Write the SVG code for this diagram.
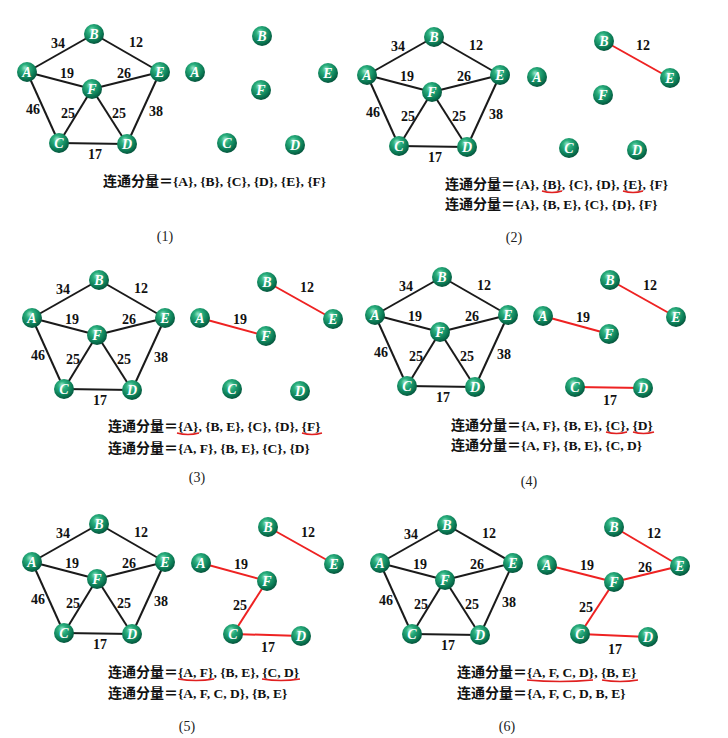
<svg xmlns="http://www.w3.org/2000/svg" xmlns:xlink="http://www.w3.org/1999/xlink" width="728" height="738" viewBox="0 0 728 738">
<defs>
<radialGradient id="ball" cx="0.42" cy="0.36" r="0.66" fx="0.4" fy="0.3">
<stop offset="0" stop-color="#9be6c6"/>
<stop offset="0.3" stop-color="#2bb07f"/>
<stop offset="0.75" stop-color="#0b7a54"/>
<stop offset="1" stop-color="#05503a"/>
</radialGradient>
</defs>
<style>
.n{fill:url(#ball)}
.nl{fill:#fff;font-family:"Liberation Serif",serif;font-style:italic;font-weight:bold;font-size:14px;text-anchor:middle}
.e{stroke:#1a1a1a;stroke-width:2;fill:none}
.r{stroke:#ee2222;stroke-width:2;fill:none}
.w{fill:#111;font-family:"Liberation Serif",serif;font-weight:bold;font-size:14px;text-anchor:middle}
.t{fill:#111;font-family:"Liberation Serif","Noto Sans CJK SC",sans-serif;font-weight:bold;font-size:13.5px}
.cj{font-family:"Noto Sans CJK SC",sans-serif;font-size:14px}
.u{stroke:#e02020;stroke-width:1.5;fill:none}
.cap{fill:#222;font-family:"Liberation Serif",serif;font-size:14px;text-anchor:middle}
</style>
<rect width="728" height="738" fill="#fff"/>

<!-- ===== Panel 1 ===== -->
<g id="panel1">
<g id="p1-main" transform="translate(27,72)">
<g id="p1-main-edges">
<line class="e" x1="0" y1="0" x2="67" y2="-38"/><line class="e" x1="67" y1="-38" x2="133" y2="0"/><line class="e" x1="0" y1="0" x2="65" y2="17"/><line class="e" x1="65" y1="17" x2="133" y2="0"/><line class="e" x1="0" y1="0" x2="32" y2="71"/><line class="e" x1="65" y1="17" x2="32" y2="71"/><line class="e" x1="65" y1="17" x2="100" y2="72"/><line class="e" x1="133" y1="0" x2="100" y2="72"/><line class="e" x1="32" y1="71" x2="100" y2="72"/>
<text class="w" x="31" y="-24">34</text><text class="w" x="109" y="-25">12</text><text class="w" x="40" y="6">19</text><text class="w" x="97" y="6">26</text><text class="w" x="6" y="42">46</text><text class="w" x="41" y="46">25</text><text class="w" x="92" y="46">25</text><text class="w" x="129" y="44">38</text><text class="w" x="68" y="87">17</text>
</g>
<g id="p1-A"><circle class="n" cx="0" cy="0" r="10"/><text class="nl" x="0" y="5">A</text></g>
<g id="p1-B"><circle class="n" cx="67" cy="-38" r="10"/><text class="nl" x="67" y="-33">B</text></g>
<g id="p1-E"><circle class="n" cx="133" cy="0" r="10"/><text class="nl" x="133" y="5">E</text></g>
<g id="p1-F"><circle class="n" cx="65" cy="17" r="10"/><text class="nl" x="65" y="22">F</text></g>
<g id="p1-C"><circle class="n" cx="32" cy="71" r="10"/><text class="nl" x="32" y="76">C</text></g>
<g id="p1-D"><circle class="n" cx="100" cy="72" r="10"/><text class="nl" x="100" y="77">D</text></g>
</g>
<g id="p1-sub" transform="translate(195,72)">
<g id="p1-A2"><circle class="n" cx="0" cy="0" r="10"/><text class="nl" x="0" y="5">A</text></g>
<g id="p1-B2"><circle class="n" cx="67" cy="-36" r="10"/><text class="nl" x="67" y="-31">B</text></g>
<g id="p1-E2"><circle class="n" cx="133" cy="1" r="10"/><text class="nl" x="133" y="6">E</text></g>
<g id="p1-F2"><circle class="n" cx="66" cy="18" r="10"/><text class="nl" x="66" y="23">F</text></g>
<g id="p1-C2"><circle class="n" cx="32" cy="71" r="10"/><text class="nl" x="32" y="76">C</text></g>
<g id="p1-D2"><circle class="n" cx="100" cy="73" r="10"/><text class="nl" x="100" y="78">D</text></g>
</g>
<text class="t" x="103" y="186"><tspan class="cj">连通分量＝</tspan>{A}, {B}, {C}, {D}, {E}, {F}</text>
<text class="cap" x="165" y="241">(1)</text>
</g>

<!-- ===== Panel 2 ===== -->
<g id="panel2">
<g id="p2-main" transform="translate(367,75)">
<g id="p2-main-edges">
<line class="e" x1="0" y1="0" x2="67" y2="-38"/><line class="e" x1="67" y1="-38" x2="133" y2="0"/><line class="e" x1="0" y1="0" x2="65" y2="17"/><line class="e" x1="65" y1="17" x2="133" y2="0"/><line class="e" x1="0" y1="0" x2="32" y2="71"/><line class="e" x1="65" y1="17" x2="32" y2="71"/><line class="e" x1="65" y1="17" x2="100" y2="72"/><line class="e" x1="133" y1="0" x2="100" y2="72"/><line class="e" x1="32" y1="71" x2="100" y2="72"/>
<text class="w" x="31" y="-24">34</text><text class="w" x="109" y="-25">12</text><text class="w" x="40" y="6">19</text><text class="w" x="97" y="6">26</text><text class="w" x="6" y="42">46</text><text class="w" x="41" y="46">25</text><text class="w" x="92" y="46">25</text><text class="w" x="129" y="44">38</text><text class="w" x="68" y="87">17</text>
</g>
<g id="p2-A"><circle class="n" cx="0" cy="0" r="10"/><text class="nl" x="0" y="5">A</text></g>
<g id="p2-B"><circle class="n" cx="67" cy="-38" r="10"/><text class="nl" x="67" y="-33">B</text></g>
<g id="p2-E"><circle class="n" cx="133" cy="0" r="10"/><text class="nl" x="133" y="5">E</text></g>
<g id="p2-F"><circle class="n" cx="65" cy="17" r="10"/><text class="nl" x="65" y="22">F</text></g>
<g id="p2-C"><circle class="n" cx="32" cy="71" r="10"/><text class="nl" x="32" y="76">C</text></g>
<g id="p2-D"><circle class="n" cx="100" cy="72" r="10"/><text class="nl" x="100" y="77">D</text></g>
</g>
<g id="p2-sub" transform="translate(537,77)">
<g id="p2-sub-edges">
<line class="r" x1="67" y1="-36" x2="133" y2="1"/>
<text class="w" x="106" y="-27">12</text>
</g>
<g id="p2-A2"><circle class="n" cx="0" cy="0" r="10"/><text class="nl" x="0" y="5">A</text></g>
<g id="p2-B2"><circle class="n" cx="67" cy="-36" r="10"/><text class="nl" x="67" y="-31">B</text></g>
<g id="p2-E2"><circle class="n" cx="133" cy="1" r="10"/><text class="nl" x="133" y="6">E</text></g>
<g id="p2-F2"><circle class="n" cx="66" cy="18" r="10"/><text class="nl" x="66" y="23">F</text></g>
<g id="p2-C2"><circle class="n" cx="32" cy="71" r="10"/><text class="nl" x="32" y="76">C</text></g>
<g id="p2-D2"><circle class="n" cx="100" cy="73" r="10"/><text class="nl" x="100" y="78">D</text></g>
</g>
<text class="t" x="445" y="189"><tspan class="cj">连通分量＝</tspan>{A}, {B}, {C}, {D}, {E}, {F}</text>
<text class="t" x="445" y="209"><tspan class="cj">连通分量＝</tspan>{A}, {B, E}, {C}, {D}, {F}</text>
<path class="u" d="M542 191 Q552 194 562 191"/>
<path class="u" d="M623 191 Q633 194 643 191"/>
<text class="cap" x="514" y="242">(2)</text>
</g>

<!-- ===== Panel 3 ===== -->
<g id="panel3">
<g id="p3-main" transform="translate(32,318)">
<g id="p3-main-edges">
<line class="e" x1="0" y1="0" x2="67" y2="-38"/><line class="e" x1="67" y1="-38" x2="133" y2="0"/><line class="e" x1="0" y1="0" x2="65" y2="17"/><line class="e" x1="65" y1="17" x2="133" y2="0"/><line class="e" x1="0" y1="0" x2="32" y2="71"/><line class="e" x1="65" y1="17" x2="32" y2="71"/><line class="e" x1="65" y1="17" x2="100" y2="72"/><line class="e" x1="133" y1="0" x2="100" y2="72"/><line class="e" x1="32" y1="71" x2="100" y2="72"/>
<text class="w" x="31" y="-24">34</text><text class="w" x="109" y="-25">12</text><text class="w" x="40" y="6">19</text><text class="w" x="97" y="6">26</text><text class="w" x="6" y="42">46</text><text class="w" x="41" y="46">25</text><text class="w" x="92" y="46">25</text><text class="w" x="129" y="44">38</text><text class="w" x="68" y="87">17</text>
</g>
<g id="p3-A"><circle class="n" cx="0" cy="0" r="10"/><text class="nl" x="0" y="5">A</text></g>
<g id="p3-B"><circle class="n" cx="67" cy="-38" r="10"/><text class="nl" x="67" y="-33">B</text></g>
<g id="p3-E"><circle class="n" cx="133" cy="0" r="10"/><text class="nl" x="133" y="5">E</text></g>
<g id="p3-F"><circle class="n" cx="65" cy="17" r="10"/><text class="nl" x="65" y="22">F</text></g>
<g id="p3-C"><circle class="n" cx="32" cy="71" r="10"/><text class="nl" x="32" y="76">C</text></g>
<g id="p3-D"><circle class="n" cx="100" cy="72" r="10"/><text class="nl" x="100" y="77">D</text></g>
</g>
<g id="p3-sub" transform="translate(200,318)">
<g id="p3-sub-edges">
<line class="r" x1="67" y1="-36" x2="133" y2="1"/>
<line class="r" x1="0" y1="0" x2="66" y2="18"/>
<text class="w" x="107" y="-26">12</text>
<text class="w" x="40" y="6">19</text>
</g>
<g id="p3-A2"><circle class="n" cx="0" cy="0" r="10"/><text class="nl" x="0" y="5">A</text></g>
<g id="p3-B2"><circle class="n" cx="67" cy="-36" r="10"/><text class="nl" x="67" y="-31">B</text></g>
<g id="p3-E2"><circle class="n" cx="133" cy="1" r="10"/><text class="nl" x="133" y="6">E</text></g>
<g id="p3-F2"><circle class="n" cx="66" cy="18" r="10"/><text class="nl" x="66" y="23">F</text></g>
<g id="p3-C2"><circle class="n" cx="32" cy="71" r="10"/><text class="nl" x="32" y="76">C</text></g>
<g id="p3-D2"><circle class="n" cx="100" cy="73" r="10"/><text class="nl" x="100" y="78">D</text></g>
</g>
<text class="t" x="108" y="431"><tspan class="cj">连通分量＝</tspan>{A}, {B, E}, {C}, {D}, {F}</text>
<text class="t" x="108" y="453"><tspan class="cj">连通分量＝</tspan>{A, F}, {B, E}, {C}, {D}</text>
<path class="u" d="M177 433 Q188 436 199 433"/>
<path class="u" d="M302 433 Q312 436 322 433"/>
<text class="cap" x="197" y="482">(3)</text>
</g>

<!-- ===== Panel 4 ===== -->
<g id="panel4">
<g id="p4-main" transform="translate(375,315)">
<g id="p4-main-edges">
<line class="e" x1="0" y1="0" x2="67" y2="-38"/><line class="e" x1="67" y1="-38" x2="133" y2="0"/><line class="e" x1="0" y1="0" x2="65" y2="17"/><line class="e" x1="65" y1="17" x2="133" y2="0"/><line class="e" x1="0" y1="0" x2="32" y2="71"/><line class="e" x1="65" y1="17" x2="32" y2="71"/><line class="e" x1="65" y1="17" x2="100" y2="72"/><line class="e" x1="133" y1="0" x2="100" y2="72"/><line class="e" x1="32" y1="71" x2="100" y2="72"/>
<text class="w" x="31" y="-24">34</text><text class="w" x="109" y="-25">12</text><text class="w" x="40" y="6">19</text><text class="w" x="97" y="6">26</text><text class="w" x="6" y="42">46</text><text class="w" x="41" y="46">25</text><text class="w" x="92" y="46">25</text><text class="w" x="129" y="44">38</text><text class="w" x="68" y="87">17</text>
</g>
<g id="p4-A"><circle class="n" cx="0" cy="0" r="10"/><text class="nl" x="0" y="5">A</text></g>
<g id="p4-B"><circle class="n" cx="67" cy="-38" r="10"/><text class="nl" x="67" y="-33">B</text></g>
<g id="p4-E"><circle class="n" cx="133" cy="0" r="10"/><text class="nl" x="133" y="5">E</text></g>
<g id="p4-F"><circle class="n" cx="65" cy="17" r="10"/><text class="nl" x="65" y="22">F</text></g>
<g id="p4-C"><circle class="n" cx="32" cy="71" r="10"/><text class="nl" x="32" y="76">C</text></g>
<g id="p4-D"><circle class="n" cx="100" cy="72" r="10"/><text class="nl" x="100" y="77">D</text></g>
</g>
<g id="p4-sub" transform="translate(543,316)">
<g id="p4-sub-edges">
<line class="r" x1="67" y1="-36" x2="133" y2="1"/>
<line class="r" x1="0" y1="0" x2="66" y2="18"/>
<line class="r" x1="32" y1="71" x2="100" y2="72"/>
<text class="w" x="107" y="-26">12</text>
<text class="w" x="40" y="6">19</text>
<text class="w" x="67" y="89">17</text>
</g>
<g id="p4-A2"><circle class="n" cx="0" cy="0" r="10"/><text class="nl" x="0" y="5">A</text></g>
<g id="p4-B2"><circle class="n" cx="67" cy="-36" r="10"/><text class="nl" x="67" y="-31">B</text></g>
<g id="p4-E2"><circle class="n" cx="133" cy="1" r="10"/><text class="nl" x="133" y="6">E</text></g>
<g id="p4-F2"><circle class="n" cx="66" cy="18" r="10"/><text class="nl" x="66" y="23">F</text></g>
<g id="p4-C2"><circle class="n" cx="32" cy="71" r="10"/><text class="nl" x="32" y="76">C</text></g>
<g id="p4-D2"><circle class="n" cx="100" cy="72" r="10"/><text class="nl" x="100" y="77">D</text></g>
</g>
<text class="t" x="451" y="430"><tspan class="cj">连通分量＝</tspan>{A, F}, {B, E}, {C}, {D}</text>
<text class="t" x="451" y="450"><tspan class="cj">连通分量＝</tspan>{A, F}, {B, E}, {C, D}</text>
<path class="u" d="M606 432 Q616.5 435 627 432"/>
<path class="u" d="M633 432 Q643.5 435 654 432"/>
<text class="cap" x="529" y="486">(4)</text>
</g>

<!-- ===== Panel 5 ===== -->
<g id="panel5">
<g id="p5-main" transform="translate(32,562)">
<g id="p5-main-edges">
<line class="e" x1="0" y1="0" x2="67" y2="-38"/><line class="e" x1="67" y1="-38" x2="133" y2="0"/><line class="e" x1="0" y1="0" x2="65" y2="17"/><line class="e" x1="65" y1="17" x2="133" y2="0"/><line class="e" x1="0" y1="0" x2="32" y2="71"/><line class="e" x1="65" y1="17" x2="32" y2="71"/><line class="e" x1="65" y1="17" x2="100" y2="72"/><line class="e" x1="133" y1="0" x2="100" y2="72"/><line class="e" x1="32" y1="71" x2="100" y2="72"/>
<text class="w" x="31" y="-24">34</text><text class="w" x="109" y="-25">12</text><text class="w" x="40" y="6">19</text><text class="w" x="97" y="6">26</text><text class="w" x="6" y="42">46</text><text class="w" x="41" y="46">25</text><text class="w" x="92" y="46">25</text><text class="w" x="129" y="44">38</text><text class="w" x="68" y="87">17</text>
</g>
<g id="p5-A"><circle class="n" cx="0" cy="0" r="10"/><text class="nl" x="0" y="5">A</text></g>
<g id="p5-B"><circle class="n" cx="67" cy="-38" r="10"/><text class="nl" x="67" y="-33">B</text></g>
<g id="p5-E"><circle class="n" cx="133" cy="0" r="10"/><text class="nl" x="133" y="5">E</text></g>
<g id="p5-F"><circle class="n" cx="65" cy="17" r="10"/><text class="nl" x="65" y="22">F</text></g>
<g id="p5-C"><circle class="n" cx="32" cy="71" r="10"/><text class="nl" x="32" y="76">C</text></g>
<g id="p5-D"><circle class="n" cx="100" cy="72" r="10"/><text class="nl" x="100" y="77">D</text></g>
</g>
<g id="p5-sub" transform="translate(201,563)">
<g id="p5-sub-edges">
<line class="r" x1="67" y1="-36" x2="133" y2="1"/>
<line class="r" x1="0" y1="0" x2="66" y2="18"/>
<line class="r" x1="32" y1="71" x2="100" y2="73"/>
<line class="r" x1="66" y1="18" x2="32" y2="71"/>
<text class="w" x="107" y="-26">12</text>
<text class="w" x="40" y="6">19</text>
<text class="w" x="67" y="89">17</text>
<text class="w" x="39" y="47">25</text>
</g>
<g id="p5-A2"><circle class="n" cx="0" cy="0" r="10"/><text class="nl" x="0" y="5">A</text></g>
<g id="p5-B2"><circle class="n" cx="67" cy="-36" r="10"/><text class="nl" x="67" y="-31">B</text></g>
<g id="p5-E2"><circle class="n" cx="133" cy="1" r="10"/><text class="nl" x="133" y="6">E</text></g>
<g id="p5-F2"><circle class="n" cx="66" cy="18" r="10"/><text class="nl" x="66" y="23">F</text></g>
<g id="p5-C2"><circle class="n" cx="32" cy="71" r="10"/><text class="nl" x="32" y="76">C</text></g>
<g id="p5-D2"><circle class="n" cx="100" cy="73" r="10"/><text class="nl" x="100" y="78">D</text></g>
</g>
<text class="t" x="108" y="677"><tspan class="cj">连通分量＝</tspan>{A, F}, {B, E}, {C, D}</text>
<text class="t" x="108" y="698"><tspan class="cj">连通分量＝</tspan>{A, F, C, D}, {B, E}</text>
<path class="u" d="M178 679 Q196 682 214 679"/>
<path class="u" d="M262 679 Q281 682 300 679"/>
<text class="cap" x="187" y="731">(5)</text>
</g>

<!-- ===== Panel 6 ===== -->
<g id="panel6">
<g id="p6-main" transform="translate(380,563)">
<g id="p6-main-edges">
<line class="e" x1="0" y1="0" x2="67" y2="-38"/><line class="e" x1="67" y1="-38" x2="133" y2="0"/><line class="e" x1="0" y1="0" x2="65" y2="17"/><line class="e" x1="65" y1="17" x2="133" y2="0"/><line class="e" x1="0" y1="0" x2="32" y2="71"/><line class="e" x1="65" y1="17" x2="32" y2="71"/><line class="e" x1="65" y1="17" x2="100" y2="72"/><line class="e" x1="133" y1="0" x2="100" y2="72"/><line class="e" x1="32" y1="71" x2="100" y2="72"/>
<text class="w" x="31" y="-24">34</text><text class="w" x="109" y="-25">12</text><text class="w" x="40" y="6">19</text><text class="w" x="97" y="6">26</text><text class="w" x="6" y="42">46</text><text class="w" x="41" y="46">25</text><text class="w" x="92" y="46">25</text><text class="w" x="129" y="44">38</text><text class="w" x="68" y="87">17</text>
</g>
<g id="p6-A"><circle class="n" cx="0" cy="0" r="10"/><text class="nl" x="0" y="5">A</text></g>
<g id="p6-B"><circle class="n" cx="67" cy="-38" r="10"/><text class="nl" x="67" y="-33">B</text></g>
<g id="p6-E"><circle class="n" cx="133" cy="0" r="10"/><text class="nl" x="133" y="5">E</text></g>
<g id="p6-F"><circle class="n" cx="65" cy="17" r="10"/><text class="nl" x="65" y="22">F</text></g>
<g id="p6-C"><circle class="n" cx="32" cy="71" r="10"/><text class="nl" x="32" y="76">C</text></g>
<g id="p6-D"><circle class="n" cx="100" cy="72" r="10"/><text class="nl" x="100" y="77">D</text></g>
</g>
<g id="p6-sub" transform="translate(547,565)">
<g id="p6-sub-edges">
<line class="r" x1="67" y1="-38" x2="133" y2="1"/>
<line class="r" x1="0" y1="0" x2="67" y2="17"/>
<line class="r" x1="33" y1="69" x2="101" y2="72"/>
<line class="r" x1="67" y1="17" x2="33" y2="69"/>
<line class="r" x1="67" y1="17" x2="133" y2="1"/>
<text class="w" x="107" y="-27">12</text>
<text class="w" x="40" y="5">19</text>
<text class="w" x="68" y="89">17</text>
<text class="w" x="39" y="47">25</text>
<text class="w" x="98" y="7">26</text>
</g>
<g id="p6-A2"><circle class="n" cx="0" cy="0" r="10"/><text class="nl" x="0" y="5">A</text></g>
<g id="p6-B2"><circle class="n" cx="67" cy="-38" r="10"/><text class="nl" x="67" y="-33">B</text></g>
<g id="p6-E2"><circle class="n" cx="133" cy="1" r="10"/><text class="nl" x="133" y="6">E</text></g>
<g id="p6-F2"><circle class="n" cx="67" cy="17" r="10"/><text class="nl" x="67" y="22">F</text></g>
<g id="p6-C2"><circle class="n" cx="33" cy="69" r="10"/><text class="nl" x="33" y="74">C</text></g>
<g id="p6-D2"><circle class="n" cx="101" cy="72" r="10"/><text class="nl" x="101" y="77">D</text></g>
</g>
<text class="t" x="457" y="677"><tspan class="cj">连通分量＝</tspan>{A, F, C, D}, {B, E}</text>
<text class="t" x="457" y="698"><tspan class="cj">连通分量＝</tspan>{A, F, C, D, B, E}</text>
<path class="u" d="M527 680 Q560 683 593 680"/>
<path class="u" d="M602 680 Q620 683 638 680"/>
<text class="cap" x="507" y="731">(6)</text>
</g>
</svg>
